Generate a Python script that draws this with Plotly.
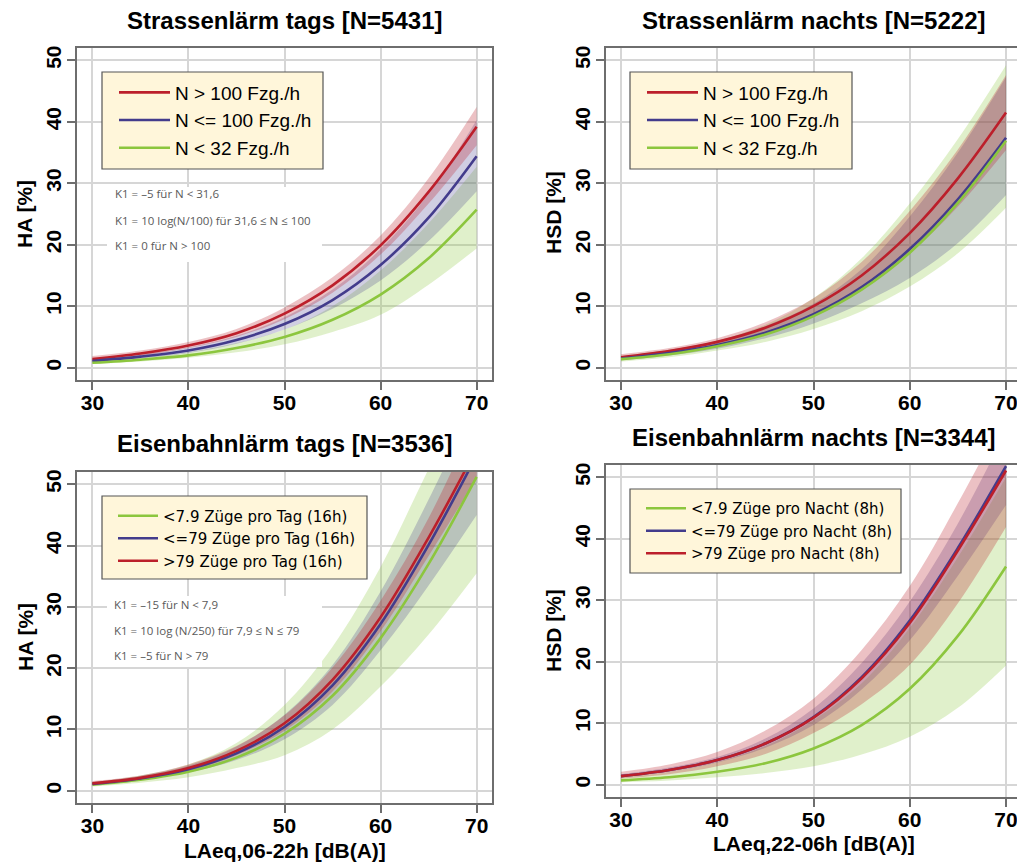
import plotly.graph_objects as go

# ---------------- data ----------------
DB = [30, 35, 40, 45, 50, 55, 60, 65, 70]
X_TICKS = [30, 40, 50, 60, 70]
Y_TICKS = [0, 10, 20, 30, 40, 50]

# Strassenlaerm tags (HA %)
road_day_gt100 = [1.4, 2.3, 3.6, 5.6, 8.8, 13.4, 19.9, 28.6, 39.2]
road_day_gt100_lo = [1.1, 1.9, 3.2, 5.0, 7.9, 12.2, 18.4, 26.7, 36.2]
road_day_gt100_hi = [1.9, 2.8, 4.2, 6.3, 9.8, 14.7, 21.5, 30.8, 42.4]
road_day_le100 = [1.1, 1.8, 2.8, 4.5, 7.1, 11.0, 16.7, 24.4, 34.4]
road_day_le100_lo = [0.9, 1.5, 2.4, 3.9, 6.2, 9.6, 14.2, 20.6, 28.7]
road_day_le100_hi = [1.4, 2.2, 3.3, 5.2, 8.2, 12.7, 19.3, 28.3, 40.3]
road_day_lt32 = [0.8, 1.3, 2.0, 3.2, 5.0, 7.8, 11.9, 17.8, 25.7]
road_day_lt32_lo = [0.6, 1.0, 1.6, 2.5, 3.8, 5.8, 8.6, 13.5, 19.4]
road_day_lt32_hi = [1.0, 1.6, 2.5, 4.0, 6.2, 10.0, 15.8, 23.5, 32.7]

# Strassenlaerm nachts (HSD %)
road_night_gt100 = [1.7, 2.7, 4.2, 6.5, 10.0, 15.0, 21.9, 30.8, 41.5]
road_night_gt100_lo = [1.4, 2.3, 3.7, 5.7, 8.8, 13.0, 18.6, 26.2, 35.4]
road_night_gt100_hi = [2.2, 3.2, 4.8, 7.4, 11.3, 17.2, 25.5, 35.5, 47.6]
road_night_le100 = [1.5, 2.4, 3.7, 5.7, 8.7, 13.1, 19.3, 27.4, 37.4]
road_night_le100_lo = [1.2, 2.0, 3.1, 4.8, 7.2, 10.5, 14.6, 20.3, 28.1]
road_night_le100_hi = [1.8, 2.9, 4.4, 6.8, 10.4, 16.0, 24.6, 35.0, 47.3]
road_night_lt32 = [1.4, 2.2, 3.5, 5.4, 8.4, 12.7, 18.7, 26.8, 36.9]
road_night_lt32_lo = [1.0, 1.7, 2.8, 4.2, 6.3, 9.2, 13.2, 18.6, 26.0]
road_night_lt32_hi = [1.9, 2.9, 4.4, 7.0, 11.3, 17.8, 26.7, 37.2, 49.2]

# Eisenbahnlaerm tags (HA %)
rail_day_lt7 = [1.0, 1.8, 3.1, 5.4, 9.3, 15.5, 24.9, 37.0, 51.2]
rail_day_lt7_lo = [0.7, 1.3, 2.2, 3.7, 5.8, 10.0, 17.0, 25.5, 35.5]
rail_day_lt7_hi = [1.4, 2.5, 4.3, 7.8, 14.0, 23.5, 36.5, 52.5, 68.0]
rail_day_le79 = [1.1, 2.0, 3.5, 6.1, 10.4, 17.2, 27.2, 40.1, 54.7]
rail_day_le79_lo = [0.9, 1.7, 3.0, 5.0, 8.4, 14.0, 22.9, 33.5, 45.0]
rail_day_le79_hi = [1.4, 2.4, 4.1, 7.2, 12.4, 20.5, 32.5, 47.5, 64.0]
rail_day_gt79 = [1.2, 2.1, 3.7, 6.5, 11.0, 18.1, 28.3, 41.3, 55.8]
rail_day_gt79_lo = [1.0, 1.8, 3.2, 5.8, 9.8, 16.2, 26.0, 38.3, 51.0]
rail_day_gt79_hi = [1.6, 2.5, 4.3, 7.3, 12.3, 20.1, 31.0, 44.5, 61.0]

# Eisenbahnlaerm nachts (HSD %)
rail_night_lt7 = [0.7, 1.2, 2.1, 3.5, 5.9, 9.7, 15.6, 24.2, 35.5]
rail_night_lt7_lo = [0.4, 0.7, 1.2, 1.9, 3.0, 4.9, 7.8, 12.5, 19.4]
rail_night_lt7_hi = [1.2, 2.1, 3.7, 6.3, 10.5, 16.5, 25.5, 37.0, 50.0]
rail_night_le79 = [1.4, 2.4, 4.0, 6.7, 11.0, 17.5, 26.7, 38.5, 51.8]
rail_night_le79_lo = [1.2, 2.1, 3.6, 6.0, 9.7, 15.5, 23.5, 34.0, 45.5]
rail_night_le79_hi = [1.7, 2.8, 4.5, 7.5, 12.4, 19.8, 29.8, 42.5, 57.5]
rail_night_gt79 = [1.4, 2.4, 4.0, 6.7, 10.9, 17.3, 26.3, 38.1, 51.1]
rail_night_gt79_lo = [1.0, 1.7, 3.0, 5.0, 8.4, 13.1, 19.5, 29.5, 41.9]
rail_night_gt79_hi = [2.1, 3.3, 5.3, 8.8, 14.0, 21.9, 32.3, 45.8, 60.5]

TITLES = ["Strassenlärm tags [N=5431]", "Strassenlärm nachts [N=5222]",
          "Eisenbahnlärm tags [N=3536]", "Eisenbahnlärm nachts [N=3344]"]
Y_TITLES = ["HA [%]", "HSD [%]", "HA [%]", "HSD [%]"]
X_TITLES = ["", "", "LAeq,06-22h [dB(A)]", "LAeq,22-06h [dB(A)]"]
K1_ROAD = ["K1 = –5 für N < 31,6", "K1 = 10 log(N/100) für 31,6 ≤ N ≤ 100", "K1 = 0 für N > 100"]
K1_RAIL = ["K1 = –15 für N < 7,9", "K1 = 10 log (N/250) für 7,9 ≤ N ≤ 79", "K1 = –5 für N > 79"]

# ---------------- styling ----------------
W, H = 1017, 862
RED, BLUE, GREEN = "#BC1F2B", "#433C8C", "#8CC63E"
FILL = {RED: "rgba(188,31,43,0.28)", BLUE: "rgba(67,60,140,0.25)", GREEN: "rgba(140,198,62,0.27)"}
AXC = "#6E6E6E"
GRID = "#D6D6D6"
BOLD = dict(family="Liberation Sans, Arial, sans-serif", size=21, color="black", weight="bold")
TICKF = dict(family="Liberation Sans, Arial, sans-serif", size=21, color="black", weight="bold")


def px(x):
    return x / W


def py(y):
    return 1 - y / H


# panel geometry in pixels (left, right, top, bottom) of the plot box
BOX = [(77, 492, 48, 380), (606, 1021, 48, 380), (77, 492, 472, 803), (606, 1021, 465, 797)]
XRANGE = [[28.4, 71.6], [28.44, 71.14], [28.4, 71.6], [28.44, 71.14]]

panels = [
    [("N > 100 Fzg./h", RED, road_day_gt100, road_day_gt100_lo, road_day_gt100_hi),
     ("N <= 100 Fzg./h", BLUE, road_day_le100, road_day_le100_lo, road_day_le100_hi),
     ("N < 32 Fzg./h", GREEN, road_day_lt32, road_day_lt32_lo, road_day_lt32_hi)],
    [("N > 100 Fzg./h", RED, road_night_gt100, road_night_gt100_lo, road_night_gt100_hi),
     ("N <= 100 Fzg./h", BLUE, road_night_le100, road_night_le100_lo, road_night_le100_hi),
     ("N < 32 Fzg./h", GREEN, road_night_lt32, road_night_lt32_lo, road_night_lt32_hi)],
    [("<7.9 Züge pro Tag (16h)", GREEN, rail_day_lt7, rail_day_lt7_lo, rail_day_lt7_hi),
     ("<=79 Züge pro Tag (16h)", BLUE, rail_day_le79, rail_day_le79_lo, rail_day_le79_hi),
     (">79 Züge pro Tag (16h)", RED, rail_day_gt79, rail_day_gt79_lo, rail_day_gt79_hi)],
    [("<7.9 Züge pro Nacht (8h)", GREEN, rail_night_lt7, rail_night_lt7_lo, rail_night_lt7_hi),
     ("<=79 Züge pro Nacht (8h)", BLUE, rail_night_le79, rail_night_le79_lo, rail_night_le79_hi),
     (">79 Züge pro Nacht (8h)", RED, rail_night_gt79, rail_night_gt79_lo, rail_night_gt79_hi)],
]

fig = go.Figure()
layout = {}
shapes = []
annotations = []

LEG_BOX = [(102, 323, 72, 169), (630, 852, 72, 169), (102, 367, 496, 579), (630, 901, 489, 573)]
LEG_POS = [(114, 73.5), (642, 73.5), (113, 499.5), (641, 492)]
LEG_FONT = [dict(family="Liberation Sans, Arial", size=19, color="black"),
            dict(family="Liberation Sans, Arial", size=19, color="black"),
            dict(family="DejaVu Sans", size=15, color="black"),
            dict(family="DejaVu Sans", size=15, color="black")]
LEG_ITEMW = [51, 51, 40, 40]

band_order = [GREEN, BLUE, RED]

for i, series in enumerate(panels):
    sfx = "" if i == 0 else str(i + 1)
    xa, ya = "x" + sfx, "y" + sfx
    leg = "legend" + sfx
    for col in band_order:
        for name, c, line, lo, hi in series:
            if c != col:
                continue
            fig.add_trace(go.Scatter(x=DB, y=lo, mode="lines", line=dict(width=0, shape="spline", color=c),
                                     xaxis=xa, yaxis=ya, showlegend=False, hoverinfo="skip"))
            fig.add_trace(go.Scatter(x=DB, y=hi, mode="lines", line=dict(width=0, shape="spline", color=c),
                                     fill="tonexty", fillcolor=FILL[c],
                                     xaxis=xa, yaxis=ya, showlegend=False, hoverinfo="skip"))
    for name, c, line, lo, hi in series:
        fig.add_trace(go.Scatter(x=DB, y=line, mode="lines", name=name,
                                 line=dict(width=2.6, color=c, shape="spline"),
                                 xaxis=xa, yaxis=ya, legend=leg))

    l, r, t, b = BOX[i]
    right = min(r, W)
    full = r <= W
    layout["xaxis" + sfx] = dict(
        domain=[px(l), px(right)], range=XRANGE[i], anchor=ya, automargin=False,
        tickvals=X_TICKS, ticks="outside", ticklen=8, tickwidth=1.5, tickcolor=AXC,
        showline=True, linecolor=AXC, linewidth=1.5, mirror=True,
        showgrid=True, gridcolor=GRID, gridwidth=1.5, zeroline=False,
        tickfont=TICKF, ticklabelstandoff=-5, ticklabeloverflow="allow")
    layout["yaxis" + sfx] = dict(
        domain=[py(b), py(t)], range=[-2, 52], anchor=xa, automargin=False,
        tickvals=Y_TICKS, ticks="outside", ticklen=8, tickwidth=1.5, tickcolor=AXC,
        showline=True, linecolor=AXC, linewidth=1.5, mirror=full,
        showgrid=True, gridcolor=GRID, gridwidth=1.5, zeroline=False,
        tickangle=-90, tickfont=TICKF, ticklabelstandoff=-2, ticklabeloverflow="allow")

    bl, br, bt, bb = LEG_BOX[i]
    shapes.append(dict(type="rect", xref="paper", yref="paper", x0=px(bl), x1=px(br), y0=py(bb), y1=py(bt),
                       fillcolor="#FFF6DA", line=dict(color="#555555", width=1.2), layer="above"))
    lx, ly = LEG_POS[i]
    layout[leg] = dict(x=px(lx), y=py(ly), xanchor="left", yanchor="top", bgcolor="rgba(0,0,0,0)",
                       borderwidth=0, font=LEG_FONT[i], itemwidth=LEG_ITEMW[i], traceorder="normal",
                       tracegroupgap=0)

    cx = (l + r) / 2
    ty = [20, 20, 444, 437][i]
    annotations.append(dict(text=TITLES[i], x=px(cx), y=py(ty), xref="paper", yref="paper",
                            showarrow=False, xanchor="center", yanchor="middle",
                            font=dict(family="Liberation Sans, Arial", size=24, color="black", weight="bold")))
    yt_x = [25, 553, 25, 553][i]
    yt_y = [214, 213, 637, 631][i]
    annotations.append(dict(text=Y_TITLES[i], x=px(yt_x), y=py(yt_y), xref="paper", yref="paper",
                            showarrow=False, xanchor="center", yanchor="middle", textangle=-90,
                            font=BOLD))
    if X_TITLES[i]:
        xt_y = [0, 0, 850, 843][i]
        annotations.append(dict(text=X_TITLES[i], x=px(cx), y=py(xt_y), xref="paper", yref="paper",
                                showarrow=False, xanchor="center", yanchor="middle", font=BOLD))

for (x0, x1, y0, y1, tx, rows, lines) in [(107, 322, 187, 262, 113, (194, 220, 246), K1_ROAD),
                                          (107, 322, 596, 667, 112, (604, 630, 655), K1_RAIL)]:
    shapes.append(dict(type="rect", xref="paper", yref="paper", x0=px(x0), x1=px(x1), y0=py(y1), y1=py(y0),
                       fillcolor="white", line=dict(width=0), layer="above"))
    for ry, txt in zip(rows, lines):
        annotations.append(dict(text=txt, x=px(tx), y=py(ry), xref="paper", yref="paper", showarrow=False,
                                xanchor="left", yanchor="middle",
                                font=dict(family="Open Sans, sans-serif", size=11.5, color="#5A5A5A")))

fig.update_layout(template="none", width=W, height=H, margin=dict(l=0, r=0, t=0, b=0),
                  paper_bgcolor="white", plot_bgcolor="white", shapes=shapes, annotations=annotations,
                  **layout)

fig.write_html("out.html", config={"displayModeBar": False},
               post_script="document.body.style.margin='0';document.body.style.overflow='hidden';")
